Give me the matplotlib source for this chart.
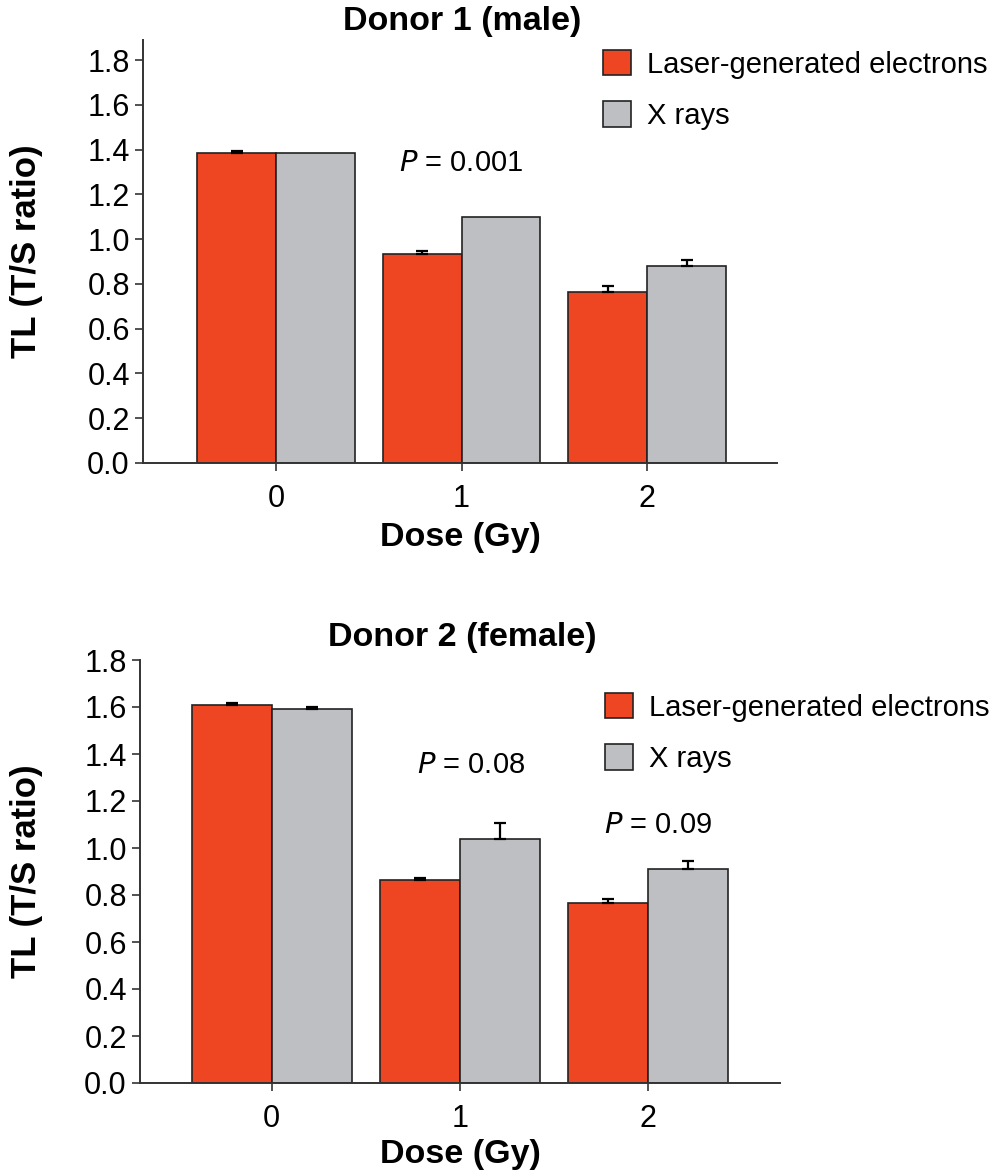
import numpy as np
import matplotlib.pyplot as plt

plt.switch_backend('Agg')
plt.rcParams['font.family'] = ['Liberation Sans', 'DejaVu Sans']

# --- Dados ---
doses = ['0', '1', '2']
series = ['Laser-generated electrons', 'X rays']

d1_laser = [1.385, 0.935, 0.765]
d1_laser_err = [0.008, 0.010, 0.028]
d1_xray = [1.385, 1.100, 0.880]
d1_xray_err = [0.0, 0.0, 0.028]

d2_laser = [1.610, 0.862, 0.764]
d2_laser_err = [0.006, 0.010, 0.018]
d2_xray = [1.592, 1.040, 0.910]
d2_xray_err = [0.006, 0.065, 0.035]

RED = '#EE4623'
GRAY = '#BEBFC3'
EDGE = '#222222'

W, H = 991, 1173
fig = plt.figure(figsize=(W / 100, H / 100), dpi=100)

def barras(ax, pos, vals, errs, cor, rotulo, w):
    ax.bar(pos, vals, w, color=cor, edgecolor=EDGE, linewidth=1.2, label=rotulo, zorder=2)
    vals = np.array(vals)
    errs = np.array(errs)
    m = errs > 0  # só desenha erro quando existe
    ax.errorbar(pos[m], vals[m], yerr=[np.zeros(m.sum()), errs[m]], fmt='none',
                ecolor='black', elinewidth=1.6, capsize=4.3, capthick=1.6, zorder=3)

def painel(rect, laser, laser_err, xray, xray_err, titulo, ylim_top, xlim,
           titulo_y, ylabel_x, xlabel_y, pvals, leg_anchor):
    ax = fig.add_axes(rect)
    x = np.arange(len(doses))
    w = 0.425
    barras(ax, x - w / 2, laser, laser_err, RED, series[0], w)
    barras(ax, x + w / 2, xray, xray_err, GRAY, series[1], w)

    ax.set_xlim(*xlim)
    ax.set_ylim(0, ylim_top)
    ax.set_xticks(x)
    ax.set_xticklabels(doses)
    ax.set_yticks(np.arange(0, 1.81, 0.2))
    ax.set_yticklabels([f'{v:.1f}' for v in np.arange(0, 1.81, 0.2)])
    ax.tick_params(labelsize=22, length=6, width=1.2, direction='out', color='#333333')
    ax.tick_params(axis='x', pad=9)
    for s in ['top', 'right']:
        ax.spines[s].set_visible(False)
    for s in ['left', 'bottom']:
        ax.spines[s].set_linewidth(1.4)
        ax.spines[s].set_color('#333333')

    ax.set_xlabel('Dose (Gy)', fontsize=24.5, fontweight='bold', va='center')
    ax.xaxis.set_label_coords(0.5, xlabel_y)
    ax.set_ylabel('TL (T/S ratio)', fontsize=25, fontweight='bold', va='center')
    ax.yaxis.set_label_coords(ylabel_x, 0.5)
    ax.text(0.503, titulo_y, titulo, transform=ax.transAxes, fontsize=24.5,
            fontweight='bold', ha='center', va='center')

    for px, py, txt in pvals:
        ax.text(px, py, r'$\it{P}$' + ' = ' + txt, fontsize=21, ha='center', va='center')

    ax.legend(loc='upper left', bbox_to_anchor=leg_anchor, bbox_transform=fig.transFigure,
              frameon=False, fontsize=21, handlelength=0.95, handleheight=0.95,
              handletextpad=0.55, labelspacing=0.78, borderpad=0, borderaxespad=0)
    return ax

# Painel 1: Donor 1 (male)
painel([143 / W, 1 - 463 / H, 634 / W, 423 / H],
       d1_laser, d1_laser_err, d1_xray, d1_xray_err,
       'Donor 1 (male)', 1.89, (-0.717, 2.70), 1.043, -0.183, -0.175,
       [(1.0, 1.34, '0.001')], (603 / W, 1 - 50 / H))

# Painel 2: Donor 2 (female)
painel([140 / W, 1 - 1083 / H, 640 / W, 423 / H],
       d2_laser, d2_laser_err, d2_xray, d2_xray_err,
       'Donor 2 (female)', 1.80, (-0.70, 2.70), 1.054, -0.177, -0.17,
       [(1.06, 1.353, '0.08'), (2.05, 1.098, '0.09')], (605 / W, 1 - 693 / H))

fig.savefig('out.png', dpi=100)
